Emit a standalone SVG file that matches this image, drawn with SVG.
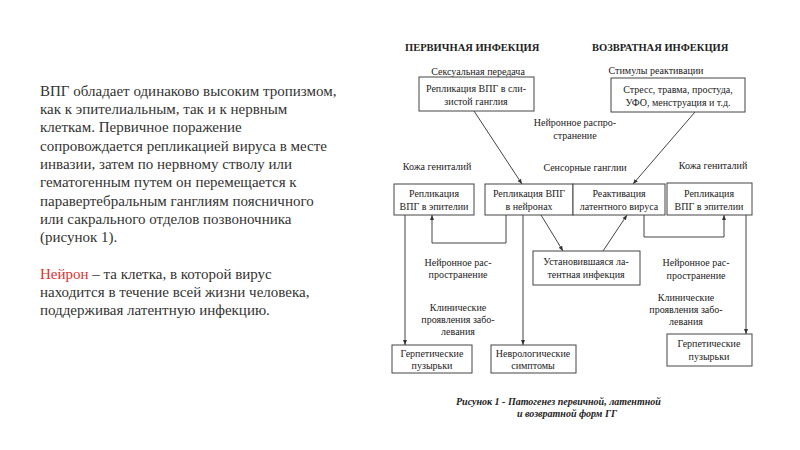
<svg xmlns="http://www.w3.org/2000/svg" width="800" height="450" viewBox="0 0 800 450">
<style>
.body{font-family:"Liberation Serif","Times New Roman",serif;font-size:15px;fill:#333}
.red{fill:#e03030}
.t{font-family:"Liberation Serif","Times New Roman",serif;font-size:10px;fill:#222;text-anchor:middle}
.h{font-family:"Liberation Serif","Times New Roman",serif;font-size:10.5px;font-weight:bold;fill:#222}
.cap{font-family:"Liberation Serif","Times New Roman",serif;font-size:10px;font-weight:bold;font-style:italic;fill:#222}
.box{fill:#fff;stroke:#444;stroke-width:1}
.ln{fill:none;stroke:#444;stroke-width:1}
</style>
<defs>
<marker id="ah" viewBox="0 0 10 10" refX="10" refY="5" markerWidth="5" markerHeight="5" orient="auto" markerUnits="userSpaceOnUse">
<path d="M0,1 L10,5 L0,9 Z" fill="#333"/>
</marker>
</defs>
<rect width="800" height="450" fill="#fff"/>
<g id="left-text" class="body">
<text x="40" y="96">ВПГ обладает одинаково высоким тропизмом,</text>
<text x="40" y="114">как к эпителиальным, так и к нервным</text>
<text x="40" y="132">клеткам. Первичное поражение</text>
<text x="40" y="151">сопровождается репликацией вируса в месте</text>
<text x="40" y="169">инвазии, затем по нервному стволу или</text>
<text x="40" y="187">гематогенным путем он перемещается к</text>
<text x="40" y="206">паравертебральным ганглиям поясничного</text>
<text x="40" y="224">или сакрального отделов позвоночника</text>
<text x="40" y="242">(рисунок 1).</text>
<text x="40" y="279"><tspan class="red">Нейрон</tspan> – та клетка, в которой вирус</text>
<text x="40" y="297">находится в течение всей жизни человека,</text>
<text x="40" y="315">поддерживая латентную инфекцию.</text>
</g>
<g id="headers">
<text class="h" x="405" y="51">ПЕРВИЧНАЯ ИНФЕКЦИЯ</text>
<text class="h" x="592" y="51">ВОЗВРАТНАЯ ИНФЕКЦИЯ</text>
</g>
<g id="labels" class="t">
<text x="478" y="75">Сексуальная передача</text>
<text x="656" y="74">Стимулы реактивации</text>
<text x="575" y="126">Нейронное распро-</text>
<text x="575" y="139">странение</text>
<text x="437" y="170">Кожа гениталий</text>
<text x="585" y="171">Сенсорные ганглии</text>
<text x="713" y="169">Кожа гениталий</text>
<text x="458" y="266">Нейронное рас-</text>
<text x="458" y="278">пространение</text>
<text x="458" y="311">Клинические</text>
<text x="458" y="323">проявления забо-</text>
<text x="458" y="335">левания</text>
<text x="696" y="266">Нейронное рас-</text>
<text x="696" y="279">пространение</text>
<text x="686" y="301">Клинические</text>
<text x="686" y="313">проявления забо-</text>
<text x="686" y="325">левания</text>
</g>
<g id="connectors" class="ln">
<line x1="474" y1="111" x2="522" y2="184" marker-end="url(#ah)"/>
<line x1="695" y1="112" x2="633" y2="184" marker-end="url(#ah)"/>
<line x1="405" y1="215" x2="405" y2="345" marker-end="url(#ah)"/>
<polyline points="506,215 506,243 432,243 432,215" marker-end="url(#ah)"/>
<line x1="523" y1="215" x2="523" y2="345" marker-end="url(#ah)"/>
<line x1="541" y1="215" x2="563" y2="251" marker-end="url(#ah)"/>
<line x1="603" y1="251" x2="627" y2="215" marker-end="url(#ah)"/>
<polyline points="644,215 644,237 724,237 724,215" marker-end="url(#ah)"/>
<line x1="746" y1="215" x2="746" y2="334" marker-end="url(#ah)"/>
</g>
<g id="n-mucosa"><rect class="box" x="419" y="77" width="115" height="34"/><text class="t" x="476" y="92">Репликация ВПГ в сли-</text><text class="t" x="476" y="105">зистой ганглия</text></g>
<g id="n-stress"><rect class="box" x="611" y="78" width="134" height="34"/><text class="t" x="678" y="93">Стресс, травма, простуда,</text><text class="t" x="678" y="106">УФО, менструация и т.д.</text></g>
<g id="n-epi-left"><rect class="box" x="394" y="184" width="80" height="31"/><text class="t" x="434" y="197">Репликация</text><text class="t" x="434" y="210">ВПГ в эпителии</text></g>
<g id="n-neurons"><rect class="box" x="485" y="184" width="88" height="31"/><text class="t" x="529" y="197">Репликация ВПГ</text><text class="t" x="529" y="210">в нейронах</text></g>
<g id="n-reactivation"><rect class="box" x="573" y="184" width="92" height="31"/><text class="t" x="619" y="197">Реактивация</text><text class="t" x="619" y="210">латентного вируса</text></g>
<g id="n-epi-right"><rect class="box" x="667" y="183" width="85" height="32"/><text class="t" x="709" y="197">Репликация</text><text class="t" x="709" y="210">ВПГ в эпителии</text></g>
<g id="n-latent"><rect class="box" x="533" y="251" width="107" height="34"/><text class="t" x="586" y="265">Установившаяся ла-</text><text class="t" x="586" y="278">тентная инфекция</text></g>
<g id="n-herpes-left"><rect class="box" x="392" y="345" width="80" height="28"/><text class="t" x="432" y="357">Герпетические</text><text class="t" x="432" y="369">пузырьки</text></g>
<g id="n-neuro"><rect class="box" x="491" y="345" width="85" height="28"/><text class="t" x="533" y="357">Неврологические</text><text class="t" x="533" y="369">симптомы</text></g>
<g id="n-herpes-right"><rect class="box" x="667" y="334" width="85" height="32"/><text class="t" x="709" y="347">Герпетические</text><text class="t" x="709" y="360">пузырьки</text></g>
<g id="caption">
<text class="cap" x="456" y="405">Рисунок 1 -  Патогенез первичной, латентной</text>
<text class="cap" x="567" y="417" text-anchor="middle">и возвратной форм ГГ</text>
</g>
</svg>
